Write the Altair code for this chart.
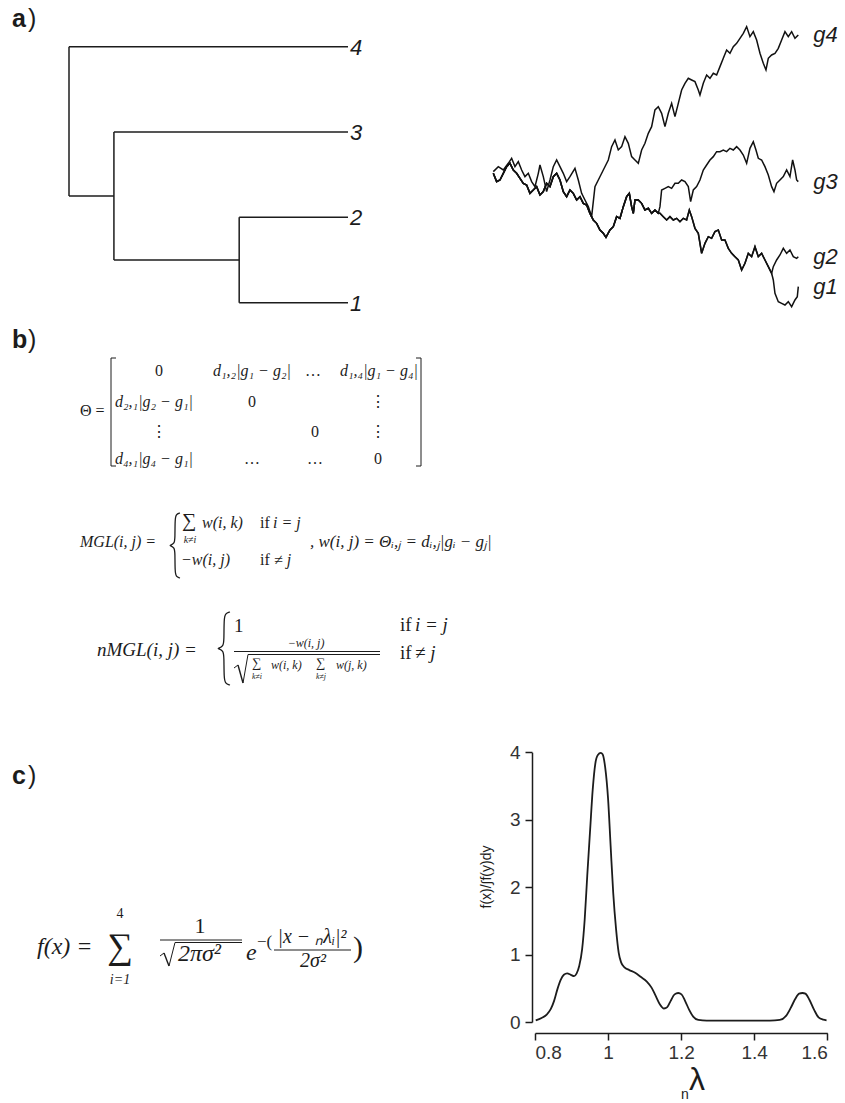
import altair as alt
import pandas as pd

INK = "#1c1c1c"
SERIF = "Liberation Serif"
SANS = "Liberation Sans"

# ---------------- a) dendrogram ----------------
LEAF_NAMES = ["1", "2", "3", "4"]
LEAF_POS = [1, 2, 3, 4]
H12, H123, HROOT = 0.39, 0.839, 1.0   # merge heights

# ---------------- a) walks (time step, level) ----------------
G4_PATH = [(40,-5),(55,10),(70,0),(85,20),(95,35),(105,10),(115,25),(125,0),(135,-20),(145,-10),
           (155,-35),(165,-50),(175,-10),(180,15),(190,-20),(200,-65),(210,-30),(220,10),(230,30),
           (240,10),(250,-10),(260,-35),(270,-20),(285,5),(295,-30),(305,-70),(315,-90),(325,-110),
           (335,-140),(345,-50),(355,-30),(370,0),(385,30),(395,70),(405,90),(415,60),(425,70),
           (435,100),(445,80),(455,40),(465,30),(475,20),(485,60),(495,80),(505,110),(515,130),
           (525,180),(535,190),(545,170),(555,130),(565,170),(575,200),(585,160),(595,200),(605,240),
           (615,260),(625,275),(635,270),(645,265),(655,240),(660,225),(670,260),(680,285),(690,275),
           (700,290),(710,285),(720,310),(730,335),(740,360),(750,350),(760,370),(770,380),(780,395),
           (790,410),(800,430),(810,400),(820,415),(830,390),(840,350),(850,320),(858,300),(865,335),
           (875,345),(885,350),(895,365),(905,390),(915,415),(925,400),(935,415),(945,395),(955,405)]
SHARED_123 = [(40,-10),(50,-35),(60,-30),(70,-10),(80,10),(90,20),(100,0),(110,-10),(120,-25),
              (130,-40),(140,-45),(150,-70),(160,-60),(170,-50),(180,-75),(190,-65),(200,-40),
              (210,-50),(220,-20),(230,-10),(240,-30),(250,-65),(260,-80),(270,-60),(280,-70),
              (290,-90),(300,-80),(310,-100),(320,-105),(330,-130),(340,-150),(350,-160),(360,-180),
              (370,-190),(378,-202),(390,-180),(400,-170),(410,-140),(420,-145),(430,-110),(440,-80),
              (448,-70),(455,-110),(460,-130),(465,-90),(475,-90),(485,-100),(495,-120),(505,-115),
              (515,-130),(525,-120),(535,-130)]
G3_TAIL = [(540,-110),(545,-60),(555,-55),(565,-50),(575,-55),(585,-40),(595,-40),(605,-30),
           (615,-35),(625,-50),(632,-95),(640,-60),(650,-50),(660,-30),(670,0),(680,15),(690,30),
           (700,40),(710,55),(720,55),(730,60),(740,55),(750,65),(760,60),(770,70),(780,60),(790,45),
           (800,20),(810,65),(820,85),(828,60),(835,35),(845,30),(855,10),(865,-15),(875,-50),
           (882,-65),(890,-40),(900,-30),(910,-20),(920,0),(930,-20),(938,30),(945,0),(950,-30),(955,-35)]
SHARED_12 = [(540,-130),(550,-140),(560,-150),(570,-140),(580,-150),(590,-145),(600,-155),(610,-145),
             (620,-150),(628,-120),(635,-140),(645,-175),(655,-190),(665,-250),(675,-220),(685,-200),
             (695,-205),(705,-185),(715,-180),(725,-210),(735,-210),(745,-235),(755,-250),(765,-260),
             (775,-270),(785,-300),(795,-280),(805,-250),(815,-260),(825,-230),(835,-260),(845,-250),
             (855,-270),(865,-290),(875,-310)]
G2_TAIL = [(880,-290),(890,-270),(900,-255),(910,-235),(920,-250),(930,-240),(940,-260),(950,-265),(955,-260)]
G1_TAIL = [(880,-330),(885,-370),(895,-395),(905,-400),(915,-405),(925,-395),(935,-410),(945,-390),(952,-380),(955,-350)]

# ---------------- c) density ----------------
LAMBDA = [0.802,0.818,0.832,0.843,0.852,0.861,0.870,0.879,0.888,0.898,0.907,0.914,0.921,0.929,0.936,
          0.943,0.951,0.958,0.965,0.972,0.980,0.985,0.992,1.000,1.007,1.014,1.022,1.029,1.036,1.045,
          1.058,1.074,1.089,1.106,1.119,1.131,1.142,1.153,1.162,1.171,1.182,1.192,1.201,1.211,1.222,
          1.233,1.247,1.270,1.352,1.443,1.470,1.487,1.500,1.512,1.523,1.532,1.540,1.551,1.564,1.576,
          1.589,1.598]
DENSITY = [0.025,0.06,0.11,0.19,0.31,0.48,0.62,0.70,0.72,0.70,0.68,0.72,0.83,1.08,1.52,
           2.17,2.86,3.45,3.83,3.96,3.99,3.97,3.78,3.31,2.61,1.92,1.37,1.03,0.88,0.81,
           0.77,0.73,0.67,0.60,0.51,0.38,0.26,0.20,0.22,0.31,0.41,0.43,0.41,0.31,0.18,
           0.08,0.03,0.02,0.02,0.02,0.03,0.09,0.21,0.34,0.42,0.43,0.42,0.33,0.18,0.07,
           0.035,0.025]
X_TICKS = [0.8, 1, 1.2, 1.4, 1.6]
Y_TICKS = [0, 1, 2, 3, 4]

# curly-brace glyph outline (unit box), used for the piecewise definitions
BRACE_U = [1.0, 0.6, 0.5, 0.5, 0.45, 0.0, 0.0, 0.45, 0.5, 0.5, 0.6, 1.0]
BRACE_V = [0.0, 0.02, 0.1, 0.38, 0.47, 0.5, 0.5, 0.53, 0.62, 0.9, 0.98, 1.0]

ONE = alt.Data(values=[{"k": 0}])


def txt(s, x, y, size=16, style="italic", font=SERIF, align="left", weight="normal",
        angle=0, baseline="middle", color=INK):
    return alt.Chart(alt.Data(values=[{"s": s}])).mark_text(
        font=font, fontSize=size, fontStyle=style, fontWeight=weight, align=align,
        baseline=baseline, color=color, angle=angle
    ).encode(x=alt.value(x), y=alt.value(y), text="s:N")


def seg(x1, y1, x2, y2, w=1.0):
    return alt.Chart(ONE).mark_rule(strokeWidth=w, color=INK).encode(
        x=alt.value(x1), y=alt.value(y1), x2=alt.value(x2), y2=alt.value(y2))


def brace(x0, x1, y0, y1, w=1.3):
    df = pd.DataFrame({"i": range(len(BRACE_U)), "u": BRACE_U, "v": BRACE_V})
    return alt.Chart(df).mark_line(interpolate="basis", strokeWidth=w, color=INK).encode(
        x=alt.X("u:Q", scale=alt.Scale(domain=[0, 1], range=[x0, x1]), axis=None),
        y=alt.Y("v:Q", scale=alt.Scale(domain=[0, 1], range=[y0, y1]), axis=None),
        order="i:Q")


layers = []

# ---- dendrogram
n12 = (LEAF_POS[0] + LEAF_POS[1]) / 2
n123 = (LEAF_POS[2] + n12) / 2
tree = pd.DataFrame([
    dict(x=0, x2=H12, y=LEAF_POS[0], y2=LEAF_POS[0]),
    dict(x=0, x2=H12, y=LEAF_POS[1], y2=LEAF_POS[1]),
    dict(x=H12, x2=H12, y=LEAF_POS[0], y2=LEAF_POS[1]),
    dict(x=H12, x2=H123, y=n12, y2=n12),
    dict(x=0, x2=H123, y=LEAF_POS[2], y2=LEAF_POS[2]),
    dict(x=H123, x2=H123, y=n12, y2=LEAF_POS[2]),
    dict(x=H123, x2=HROOT, y=n123, y2=n123),
    dict(x=0, x2=HROOT, y=LEAF_POS[3], y2=LEAF_POS[3]),
    dict(x=HROOT, x2=HROOT, y=n123, y2=LEAF_POS[3]),
])
DX = alt.Scale(domain=[0, 1], range=[348, 69])
DY = alt.Scale(domain=[1, 4], range=[302.7, 46.7])
layers.append(alt.Chart(tree).mark_rule(color=INK, strokeWidth=1.5).encode(
    x=alt.X("x:Q", scale=DX, axis=None), x2="x2:Q",
    y=alt.Y("y:Q", scale=DY, axis=None), y2="y2:Q"))
leaf_df = pd.DataFrame({"name": LEAF_NAMES, "pos": LEAF_POS, "h": [0] * 4})
layers.append(alt.Chart(leaf_df).mark_text(
    align="left", baseline="middle", dx=2, dy=1, font=SANS, fontSize=22, fontStyle="italic", color=INK
).encode(x=alt.X("h:Q", scale=DX, axis=None), y=alt.Y("pos:Q", scale=DY, axis=None), text="name:N"))

# ---- walks
def frame(name, *parts):
    rows = []
    for p in parts:
        rows += [{"series": name, "t": t, "v": v} for t, v in p]
    return rows

walk_rows = (frame("g4", G4_PATH) + frame("g3", SHARED_123, G3_TAIL)
             + frame("g2", SHARED_123, SHARED_12, G2_TAIL) + frame("g1", SHARED_123, SHARED_12, G1_TAIL))
walks = pd.DataFrame(walk_rows)
WX = alt.Scale(domain=[40, 955], range=[493.3, 798.3])
WY = alt.Scale(domain=[-420, 440], range=[310, 23.3])
layers.append(alt.Chart(walks).mark_line(color="#111", strokeWidth=1.5).encode(
    x=alt.X("t:Q", scale=WX, axis=None), y=alt.Y("v:Q", scale=WY, axis=None),
    detail="series:N", order="t:Q"))
ends = walks.groupby("series").tail(1)
layers.append(alt.Chart(ends).mark_text(
    align="left", baseline="middle", dx=15, font=SANS, fontSize=22, fontStyle="italic", color=INK
).encode(x=alt.X("t:Q", scale=WX, axis=None), y=alt.Y("v:Q", scale=WY, axis=None), text="series:N"))

# ---- density
dens = pd.DataFrame({"lam": LAMBDA, "f": DENSITY})
axis_common = dict(domainColor=INK, domainWidth=1.5, tickColor=INK, tickWidth=1.5, tickSize=7,
                   labelFont=SANS, labelFontSize=19, labelColor="#333", grid=False, title=None)
layers.append(alt.Chart(dens).mark_line(color=INK, strokeWidth=1.8, interpolate="monotone").encode(
    x=alt.X("lam:Q", scale=alt.Scale(domain=[0.8, 1.6], range=[535, 827.3], nice=False, zero=False),
            axis=alt.Axis(values=X_TICKS, format=".2~f", orient="bottom", offset=-70, labelPadding=3,
                          **axis_common)),
    y=alt.Y("f:Q", scale=alt.Scale(domain=[0, 4], range=[1022, 752.3], nice=False),
            axis=alt.Axis(values=Y_TICKS, format="d", orient="left", offset=-532, labelPadding=5,
                          **axis_common))))
layers.append(txt("f(x)/∫f(y)dy", 487, 877, size=14, style="normal", font=SANS, align="center", angle=270))
layers.append(txt("λ", 697, 1080, size=32, style="normal", font=SANS, align="center"))
layers.append(txt("n", 685, 1095, size=14, style="normal", font=SANS, align="center"))

# ---- panel labels
for lab, y in (("a", 19), ("b", 340), ("c", 776)):
    layers.append(txt(lab, 12, y, size=25, style="normal", font=SANS, weight="bold"))
    layers.append(txt(")", 28, y, size=25, style="normal", font=SANS))

# ---- b) Theta matrix
layers.append(txt("Θ =", 80, 411, style="normal"))
for xs, xe in ((111, 116), (421, 416)):
    layers.append(seg(xs, 358, xs, 466))
    layers.append(seg(xs, 358, xe, 358))
    layers.append(seg(xs, 466, xe, 466))
cells = [
    ("0", 159, 371, "center", "normal"), ("d₁,₂|g₁ − g₂|", 213, 371, "left", "italic"),
    ("…", 313, 371, "center", "normal"), ("d₁,₄|g₁ − g₄|", 340, 371, "left", "italic"),
    ("d₂,₁|g₂ − g₁|", 115, 402, "left", "italic"), ("0", 252, 402, "center", "normal"),
    ("⋮", 378, 402, "center", "normal"),
    ("⋮", 159, 432, "center", "normal"), ("0", 315, 432, "center", "normal"),
    ("⋮", 378, 432, "center", "normal"),
    ("d₄,₁|g₄ − g₁|", 115, 459, "left", "italic"), ("…", 252, 459, "center", "normal"),
    ("…", 315, 459, "center", "normal"), ("0", 378, 459, "center", "normal"),
]
for s, x, y, a, st in cells:
    layers.append(txt(s, x, y, align=a, style=st))

# ---- b) MGL
layers.append(txt("MGL(i, j) =", 80, 542))
layers.append(brace(170, 180, 513, 578))
layers.append(txt("∑", 189, 521, size=20, style="normal", align="center"))
layers.append(txt("k≠i", 190, 540, size=10, align="center"))
layers.append(txt("w(i, k)", 202, 523))
layers.append(txt("if", 260, 523, style="normal"))
layers.append(txt("i = j", 273, 523))
layers.append(txt("−w(i, j)", 181, 560))
layers.append(txt("if", 260, 560, style="normal"))
layers.append(txt("≠ j", 274, 560))
layers.append(txt(",  w(i, j) = Θᵢ,ⱼ = dᵢ,ⱼ|gᵢ − gⱼ|", 310, 542, size=17))

# ---- b) nMGL
layers.append(txt("nMGL(i, j) =", 97, 650, size=19))
layers.append(brace(218, 230, 612, 685))
layers.append(txt("1", 234, 626, size=19, style="normal"))
layers.append(txt("if", 400, 625, size=19, style="normal"))
layers.append(txt("i = j", 415, 625, size=19))
layers.append(txt("−w(i, j)", 306, 643, size=12, align="center"))
layers.append(seg(234, 651.5, 380, 651.5))
layers.append(seg(234, 668, 238, 665))
layers.append(seg(238, 665, 243, 683, 1.4))
layers.append(seg(243, 683, 248, 654.5))
layers.append(seg(248, 654.5, 380, 654.5))
layers.append(txt("∑", 257, 663, size=13, style="normal", align="center"))
layers.append(txt("k≠i", 257, 677, size=8, align="center"))
layers.append(txt("w(i, k)", 271, 665, size=12))
layers.append(txt("∑", 321, 663, size=13, style="normal", align="center"))
layers.append(txt("k≠j", 321, 677, size=8, align="center"))
layers.append(txt("w(j, k)", 336, 665, size=12))
layers.append(txt("if", 400, 653, size=19, style="normal"))
layers.append(txt("≠ j", 415, 653, size=19))

# ---- c) f(x) formula
layers.append(txt("f(x) =", 37, 947, size=24))
layers.append(txt("∑", 120, 947, size=36, style="normal", align="center"))
layers.append(txt("4", 120, 914, size=14, style="normal", align="center"))
layers.append(txt("i=1", 120, 980, size=14, align="center"))
layers.append(txt("1", 200, 926, size=22, style="normal", align="center"))
layers.append(seg(160, 940, 242, 940))
layers.append(seg(160, 956, 164, 953))
layers.append(seg(164, 953, 169, 966, 1.4))
layers.append(seg(169, 966, 175, 942.5))
layers.append(seg(175, 942.5, 242, 942.5))
layers.append(txt("2πσ²", 178, 954, size=24))
layers.append(txt("e", 246, 953, size=24))
layers.append(txt("−(", 257, 942, size=17, style="normal"))
layers.append(txt("|x − ₙλᵢ|²", 312, 937, size=20, align="center"))
layers.append(seg(274, 950, 351, 950))
layers.append(txt("2σ²", 313, 961, size=20, align="center"))
layers.append(txt(")", 353, 948, size=30, style="normal"))

chart = alt.layer(*layers).resolve_scale(x="independent", y="independent").properties(
    width=845, height=1103, padding=0, autosize="none", background="white"
).configure_view(stroke=None)

chart.save("out.html", embed_options={"renderer": "svg", "actions": False})
